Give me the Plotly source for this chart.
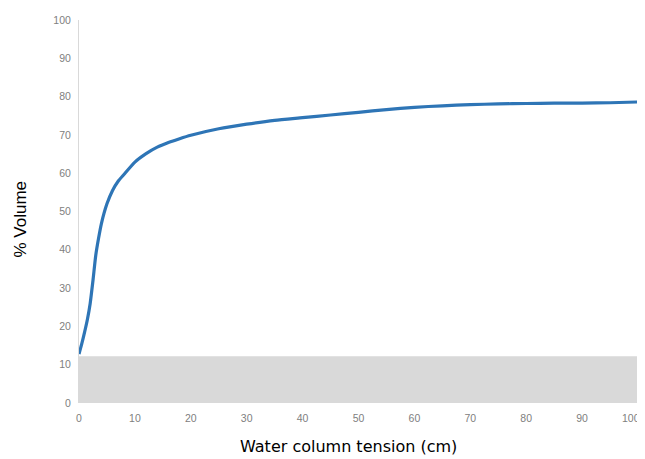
import plotly.graph_objects as go

# Data
tension_cm = [0, 0.5, 1, 1.5, 2, 2.5, 3, 3.5, 4, 5, 6, 7, 8, 10, 12, 14, 16, 18, 20,
              25, 30, 35, 40, 45, 50, 55, 60, 65, 70, 75, 80, 85, 90, 95, 100]
volume_pct = [12.8, 15.5, 18.5, 21.8, 26.0, 32.0, 38.6, 43.0, 46.8, 52.0, 55.5, 57.9, 59.6,
              62.9, 65.1, 66.8, 68.0, 69.0, 69.9, 71.6, 72.8, 73.8, 74.5, 75.2, 75.9, 76.6,
              77.2, 77.6, 77.9, 78.1, 78.2, 78.3, 78.3, 78.4, 78.6]
band_x = [0, 100]
band_y = [12.2, 12.2]
x_ticks = list(range(0, 101, 10))
y_ticks = list(range(0, 101, 10))
x_title = "Water column tension (cm)"
y_title = "% Volume"

tick_font = dict(family="Liberation Sans", size=10.5, color="#808080")

fig = go.Figure()
fig.add_trace(go.Scatter(x=band_x, y=band_y, mode="lines", fill="tozeroy",
                         fillcolor="#d9d9d9", line=dict(width=0, color="#d9d9d9"),
                         hoverinfo="skip", showlegend=False))
fig.add_trace(go.Scatter(x=tension_cm, y=volume_pct, mode="lines",
                         line=dict(color="#2e75b6", width=3.2, shape="spline", smoothing=0.6),
                         showlegend=False))

fig.update_layout(
    width=637, height=451,
    margin=dict(l=71, r=7, t=12, b=56),
    paper_bgcolor="white", plot_bgcolor="white",
    font=dict(family="Liberation Sans", color="#000000"),
    xaxis=dict(range=[0, 100], tickvals=x_ticks[:-1], showgrid=False, zeroline=False,
               showline=False, ticks="", automargin=False, ticklabelstandoff=7,
               tickfont=tick_font),
    yaxis=dict(range=[0, 100], tickvals=y_ticks, showgrid=False, zeroline=False,
               showline=True, linecolor="#d9d9d9", linewidth=1, ticks="", automargin=False,
               ticklabelstandoff=5, tickfont=tick_font),
    annotations=[
        # last x tick label, kept inside the page edge like the reference
        dict(text=str(x_ticks[-1]), xref="x", yref="y", x=x_ticks[-1], y=0,
             xanchor="right", yanchor="middle", xshift=4, yshift=-15,
             showarrow=False, font=tick_font),
        dict(text=y_title, textangle=-90, xref="paper", yref="paper",
             x=-0.105, y=0.48, xanchor="center", yanchor="middle", showarrow=False,
             font=dict(family="Liberation Sans", size=17, color="#000000")),
        dict(text=x_title, xref="paper", yref="paper",
             x=0.483, y=-0.113, xanchor="center", yanchor="middle", showarrow=False,
             font=dict(family="DejaVu Sans", size=16, color="#000000")),
    ],
)
fig.write_html("out.html")
